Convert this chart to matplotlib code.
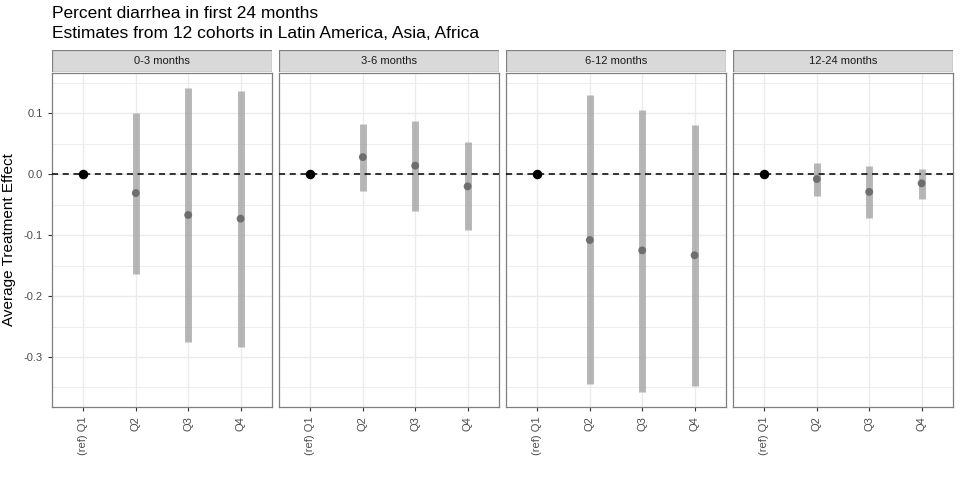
import matplotlib.pyplot as plt
from matplotlib.patches import Rectangle

panels = ["0-3 months", "3-6 months", "6-12 months", "12-24 months"]
quartiles = ["(ref) Q1", "Q2", "Q3", "Q4"]
est = [[0, -0.031, -0.067, -0.073],
       [0, 0.028, 0.014, -0.020],
       [0, -0.108, -0.125, -0.133],
       [0, -0.008, -0.029, -0.015]]
lo = [[0, -0.163, -0.275, -0.284],
      [0, -0.027, -0.060, -0.092],
      [0, -0.345, -0.357, -0.347],
      [0, -0.035, -0.072, -0.040]]
hi = [[0, 0.100, 0.141, 0.137],
      [0, 0.082, 0.087, 0.053],
      [0, 0.130, 0.105, 0.080],
      [0, 0.019, 0.014, 0.009]]

plt.rcParams['font.family'] = ['Liberation Sans', 'DejaVu Sans']
fig = plt.figure(figsize=(9.6, 4.8), dpi=100)
fig.text(52 / 960, 1 - 14 / 480, "Percent diarrhea in first 24 months", fontsize=12.5, va='center')
fig.text(52 / 960, 1 - 33 / 480, "Estimates from 12 cohorts in Latin America, Asia, Africa", fontsize=12.5, va='center')

lefts = [52, 279, 506, 733]
w = 220
for k, name in enumerate(panels):
    ax = fig.add_axes([lefts[k] / 960, 1 - 407 / 480, w / 960, 334 / 480])
    x = list(range(4))
    for i in x[1:]:
        ax.plot([i, i], [lo[k][i], hi[k][i]], color='#999999', alpha=0.7, lw=5, solid_capstyle='butt', zorder=2)
        ax.scatter(i, est[k][i], s=32, color='#666666', alpha=0.9, zorder=3, edgecolor='none')
    ax.scatter(0, est[k][0], s=34, color='black', zorder=4)
    ax.axhline(0, color='black', ls=(0, (4, 3)), lw=1.1, zorder=3)
    ax.set_xlim(-0.6, 3.6)
    ax.set_ylim(-0.382, 0.166)
    ax.set_yticks([-0.3, -0.2, -0.1, 0.0, 0.1])
    ax.set_yticks([-0.35, -0.25, -0.15, -0.05, 0.05, 0.15], minor=True)
    ax.set_xticks(x)
    ax.set_xticklabels(quartiles, rotation=90, fontsize=8, color='#4d4d4d')
    ax.grid(which='major', color='#ebebeb', lw=1.0)
    ax.grid(which='minor', axis='y', color='#ebebeb', lw=0.6)
    ax.set_axisbelow(True)
    for s in ax.spines.values():
        s.set_color('#7f7f7f')
        s.set_linewidth(0.9)
    ax.tick_params(length=3, color='#333333', labelsize=8, labelcolor='#4d4d4d', which='major')
    ax.tick_params(which='minor', length=0)
    if k == 0:
        ax.set_yticklabels(['-0.3', '-0.2', '-0.1', '0.0', '0.1'])
        ax.set_ylabel("Average Treatment Effect", fontsize=11, labelpad=6)
    else:
        ax.set_yticklabels([])
        ax.tick_params(axis='y', length=0)
    sax = fig.add_axes([lefts[k] / 960, 1 - 72 / 480, w / 960, 22 / 480])
    sax.add_patch(Rectangle((0, 0), 1, 1, facecolor='#d9d9d9', edgecolor='#7f7f7f', lw=0.9, transform=sax.transAxes))
    sax.text(0.5, 0.5, name, ha='center', va='center', fontsize=8, color='#1a1a1a')
    sax.axis('off')

fig.savefig("out.png", dpi=100)
